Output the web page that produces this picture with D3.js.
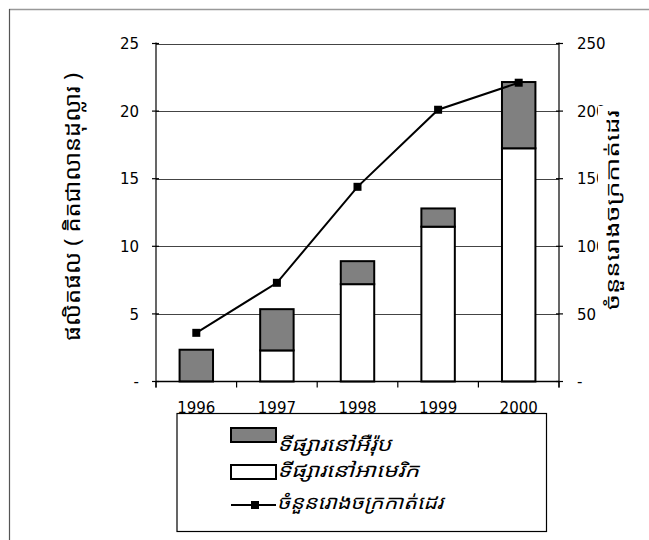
<!DOCTYPE html>
<html>
<head>
<meta charset="utf-8">
<script src="https://cdn.jsdelivr.net/npm/d3@7"></script>
<style>
  html, body { margin: 0; padding: 0; background: #fff; }
  svg { display: block; }
  .num { font-family: "DejaVu Sans", "Liberation Sans", Arial, sans-serif; font-size: 15px; fill: #000; }
  .kh { font-family: "Noto Sans Khmer", "Khmer OS", "Noto Sans", "DejaVu Sans", sans-serif; fill: #000; }
</style>
</head>
<body>
<svg id="chart" width="649" height="540"></svg>
<script>
// ---- data ----
const years = ["1996", "1997", "1998", "1999", "2000"];
const americaMarket = [0, 2.3, 7.2, 11.45, 17.25];
const europeMarket = [2.35, 3.05, 1.7, 1.35, 4.9];
const factories = [36, 73, 144, 201, 221];
const leftTicks = [0, 5, 10, 15, 20, 25];
const rightTicks = [0, 50, 100, 150, 200, 250];
const seriesNames = ["ទីផ្សារនៅអឺរ៉ុប", "ទីផ្សារនៅអាមេរិក", "ចំនួនរោងចក្រកាត់ដេរ"];
const leftTitle = "ផលិតផល ( គិតជាលានដុល្លារ )";
const rightTitle = "ចំនួនរោងចក្រកាត់ដេរ";

const svg = d3.select("#chart");
const L = 156, R = 559, T = 43.5, B = 381.5;

const x = d3.scaleBand().domain(years).range([L, R]).paddingInner(0).paddingOuter(0);
const yL = d3.scaleLinear().domain([0, 25]).range([B, T]);
const yR = d3.scaleLinear().domain([0, 250]).range([B, T]);

// outer chart border (top + left visible)
svg.append("line").attr("x1", 9).attr("x2", 649).attr("y1", 9.5).attr("y2", 9.5)
  .attr("stroke", "#999").attr("stroke-width", 1.5);
svg.append("line").attr("x1", 9.5).attr("x2", 9.5).attr("y1", 9).attr("y2", 540)
  .attr("stroke", "#555").attr("stroke-width", 1.2);

// gridlines
svg.append("g").selectAll("line").data(leftTicks.filter(d => d > 0)).join("line")
  .attr("x1", L).attr("x2", R)
  .attr("y1", d => Math.round(yL(d)) + 0.5).attr("y2", d => Math.round(yL(d)) + 0.5)
  .attr("stroke", "#444").attr("stroke-width", 1);

// bars
const barW = x.bandwidth() * 0.415;
const gBars = svg.append("g");
years.forEach((yr, i) => {
  const cx = x(yr) + x.bandwidth() / 2;
  const a = americaMarket[i], e = europeMarket[i];
  if (a > 0) {
    gBars.append("rect").attr("x", cx - barW / 2).attr("width", barW)
      .attr("y", yL(a)).attr("height", yL(0) - yL(a))
      .attr("fill", "#fff").attr("stroke", "#000").attr("stroke-width", 2);
  }
  gBars.append("rect").attr("x", cx - barW / 2).attr("width", barW)
    .attr("y", yL(a + e)).attr("height", yL(a) - yL(a + e))
    .attr("fill", "#808080").attr("stroke", "#000").attr("stroke-width", 2);
});

// axes
const axL = d3.axisLeft(yL).tickValues(leftTicks).tickSize(0).tickFormat(d => d === 0 ? "-" : d);
const gL = svg.append("g").attr("transform", `translate(${L},0)`).call(axL);
gL.select(".domain").remove();
gL.selectAll("text").attr("class", "num").attr("x", -17).attr("dy", "0.35em");
svg.append("line").attr("x1", L).attr("x2", L).attr("y1", T - 1).attr("y2", B + 6).attr("stroke", "#000").attr("stroke-width", 1.2);
svg.append("g").selectAll("line").data(leftTicks).join("line")
  .attr("x1", L - 4).attr("x2", L + 3).attr("y1", d => yL(d)).attr("y2", d => yL(d))
  .attr("stroke", "#000").attr("stroke-width", 1.2);

const axR = d3.axisRight(yR).tickValues(rightTicks).tickSize(0).tickFormat(d => d === 0 ? "-" : d);
const gR = svg.append("g").attr("transform", `translate(${R},0)`).call(axR);
gR.select(".domain").remove();
gR.selectAll("text").attr("class", "num").attr("x", 18).attr("dy", "0.35em");
svg.append("line").attr("x1", R).attr("x2", R).attr("y1", T - 1).attr("y2", B + 6).attr("stroke", "#000").attr("stroke-width", 1.2);
svg.append("g").selectAll("line").data(rightTicks).join("line")
  .attr("x1", R - 3).attr("x2", R + 4).attr("y1", d => yR(d)).attr("y2", d => yR(d))
  .attr("stroke", "#000").attr("stroke-width", 1.2);

// category axis
svg.append("line").attr("x1", L).attr("x2", R).attr("y1", B).attr("y2", B).attr("stroke", "#000").attr("stroke-width", 1.5);
const axB = d3.axisBottom(x).tickSize(0);
const gB = svg.append("g").attr("transform", `translate(0,${B})`).call(axB);
gB.select(".domain").remove();
gB.selectAll("text").attr("class", "num").attr("y", 21).attr("dy", "0.71em").attr("text-anchor", "middle");
svg.append("g").selectAll("line").data(years.concat(["end"])).join("line")
  .attr("x1", (d, i) => L + i * x.bandwidth()).attr("x2", (d, i) => L + i * x.bandwidth())
  .attr("y1", B).attr("y2", B + 6).attr("stroke", "#000").attr("stroke-width", 1.2);

// line series
const line = d3.line().x((d, i) => x(years[i]) + x.bandwidth() / 2).y(d => yR(d));
svg.append("path").datum(factories).attr("d", line)
  .attr("fill", "none").attr("stroke", "#000").attr("stroke-width", 2);
svg.append("g").selectAll("rect").data(factories).join("rect")
  .attr("x", (d, i) => x(years[i]) + x.bandwidth() / 2 - 4).attr("y", d => yR(d) - 4)
  .attr("width", 8).attr("height", 8).attr("fill", "#000");

// axis titles
svg.append("text").attr("class", "kh")
  .attr("transform", "translate(80,207) rotate(-90)")
  .attr("text-anchor", "middle").attr("font-size", 22)
  .attr("textLength", 268).attr("lengthAdjust", "spacingAndGlyphs")
  .text(leftTitle);

svg.append("rect").attr("x", 598).attr("y", 106).attr("width", 28).attr("height", 206).attr("fill", "#fff");
svg.append("text").attr("class", "kh")
  .attr("transform", "translate(619,210) rotate(-90)")
  .attr("text-anchor", "middle").attr("font-size", 18)
  .attr("textLength", 200).attr("lengthAdjust", "spacingAndGlyphs")
  .text(rightTitle);

// legend
svg.append("rect").attr("x", 177).attr("y", 413.5).attr("width", 369.5).attr("height", 118)
  .attr("fill", "#fff").attr("stroke", "#000").attr("stroke-width", 1.2);
const lg = svg.append("g");
lg.append("rect").attr("x", 231).attr("y", 428).attr("width", 45).attr("height", 14)
  .attr("fill", "#808080").attr("stroke", "#000").attr("stroke-width", 2);
lg.append("rect").attr("x", 231).attr("y", 465).attr("width", 45).attr("height", 14)
  .attr("fill", "#fff").attr("stroke", "#000").attr("stroke-width", 2);
lg.append("line").attr("x1", 231).attr("x2", 276).attr("y1", 505).attr("y2", 505)
  .attr("stroke", "#000").attr("stroke-width", 2);
lg.append("rect").attr("x", 251).attr("y", 501).attr("width", 8).attr("height", 8).attr("fill", "#000");
const legY = [451, 477, 509];
const legLen = [114, 142, 166];
lg.selectAll("text").data(seriesNames).join("text").attr("class", "kh")
  .attr("x", 277).attr("y", (d, i) => legY[i])
  .attr("font-size", 19).attr("font-style", "italic")
  .attr("textLength", (d, i) => legLen[i]).attr("lengthAdjust", "spacingAndGlyphs")
  .text(d => d);
</script>
</body>
</html>
